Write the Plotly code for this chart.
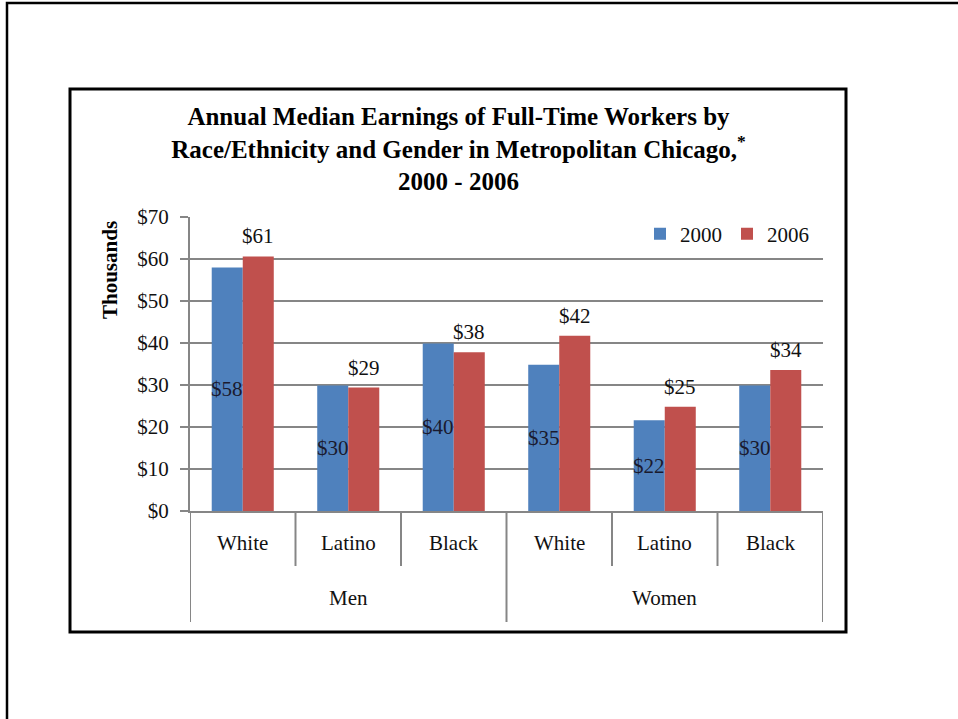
import plotly.graph_objects as go

# ---- data ----
groups = ["Men", "Men", "Men", "Women", "Women", "Women"]
races = ["White", "Latino", "Black", "White", "Latino", "Black"]
series_names = ["2000", "2006"]
earn_2000 = [58.0, 29.9, 39.9, 34.8, 21.6, 29.9]
earn_2006 = [60.6, 29.4, 37.8, 41.7, 24.8, 33.6]
labels_2000 = ["$58", "$30", "$40", "$35", "$22", "$30"]
labels_2006 = ["$61", "$29", "$38", "$42", "$25", "$34"]
group_names = ["Men", "Women"]
y_ticks = [0, 10, 20, 30, 40, 50, 60, 70]
y_ticktext = ["$0", "$10", "$20", "$30", "$40", "$50", "$60", "$70"]

BLUE = "#4F81BD"
RED = "#C0504D"
GRID = "#868686"
FONT = "Liberation Serif"
FS = 21

W, H = 958, 719
L, R, T, B = 190, 135, 217, 208
PW = W - L - R
PH = H - T - B


def px_x(px):
    return (px - L) / PW


def px_y(py):
    return (H - B - py) / PH


pos = list(range(len(races)))
bargap = 0.412
bar_w = (1 - bargap) / 2  # each bar width in category units

fig = go.Figure()
fig.add_trace(go.Bar(x=pos, y=earn_2000, name=series_names[0], marker_color=BLUE,
                     marker_line_width=0, hoverinfo="skip"))
fig.add_trace(go.Bar(x=pos, y=earn_2006, name=series_names[1], marker_color=RED,
                     marker_line_width=0, hoverinfo="skip"))

annotations = []
# data labels
for i, (v, t) in enumerate(zip(earn_2000, labels_2000)):
    annotations.append(dict(x=i - bar_w / 2, y=v / 2, xref="x", yref="y", text=t,
                            showarrow=False, font=dict(family=FONT, size=FS, color="#1a1a2e"),
                            xanchor="center", yanchor="middle"))
for i, (v, t) in enumerate(zip(earn_2006, labels_2006)):
    annotations.append(dict(x=i + bar_w / 2, y=v, xref="x", yref="y", text=t,
                            showarrow=False, font=dict(family=FONT, size=FS, color="#111111"),
                            xanchor="center", yanchor="bottom", yshift=6))
# category labels
for i, r in enumerate(races):
    annotations.append(dict(x=i, y=0, xref="x", yref="paper", text=r, showarrow=False,
                            font=dict(family=FONT, size=FS, color="#111111"),
                            xanchor="center", yanchor="middle", yshift=-32))
# group labels
for gname in group_names:
    idx = [i for i, g in enumerate(groups) if g == gname]
    annotations.append(dict(x=sum(idx) / len(idx), y=0, xref="x", yref="paper", text=gname,
                            showarrow=False, font=dict(family=FONT, size=FS, color="#111111"),
                            xanchor="center", yanchor="middle", yshift=-87))
# y-axis title
annotations.append(dict(x=px_x(110), y=px_y(270), xref="paper", yref="paper", text="<b>Thousands</b>",
                        showarrow=False, textangle=-90, font=dict(family=FONT, size=FS, color="#000000"),
                        xanchor="center", yanchor="middle"))

shapes = []
# separators under the category axis
for b in [i - 0.5 for i in range(len(races) + 1)]:
    is_group_edge = (b == -0.5) or (b == len(races) - 0.5) or \
        (groups[int(b - 0.5)] != groups[int(b + 0.5)])
    bottom = 622 if is_group_edge else 566
    shapes.append(dict(type="line", xref="x", yref="paper", x0=b, x1=b,
                       y0=0, y1=px_y(bottom), line=dict(color=GRID, width=2), layer="above"))
# outer page frame
shapes.append(dict(type="rect", xref="paper", yref="paper", x0=px_x(7), x1=px_x(990),
                   y0=px_y(3), y1=px_y(760), line=dict(color="#000000", width=2.5)))
# chart box
shapes.append(dict(type="rect", xref="paper", yref="paper", x0=px_x(70), x1=px_x(846),
                   y0=px_y(89), y1=px_y(632), line=dict(color="#000000", width=3)))

fig.update_layout(
    width=W, height=H,
    margin=dict(l=L, r=R, t=T, b=B, pad=0),
    paper_bgcolor="white", plot_bgcolor="white",
    barmode="group", bargap=bargap, bargroupgap=0,
    font=dict(family=FONT, size=FS, color="#111111"),
    title=dict(text="<b>Annual Median Earnings of Full-Time Workers by<br>"
                    "Race/Ethnicity and Gender in Metropolitan Chicago,<sup>*</sup><br>"
                    "2000 - 2006</b>",
               x=458.5 / W, xref="container", xanchor="center",
               y=1 - 125 / H, yref="container", yanchor="middle",
               font=dict(family=FONT, size=25, color="#000000")),
    xaxis=dict(range=[-0.5, len(races) - 0.5], showticklabels=False, ticks="",
               showgrid=False, zeroline=False, showline=True, linecolor=GRID, linewidth=2),
    yaxis=dict(range=[0, 70], tickvals=y_ticks, ticktext=y_ticktext, ticks="outside",
               ticklen=8, tickwidth=2, tickcolor=GRID, showgrid=True, gridcolor=GRID,
               gridwidth=2, showline=True, linecolor=GRID, linewidth=2, zeroline=False,
               tickfont=dict(family=FONT, size=FS, color="#111111"), ticklabelstandoff=7),
    legend=dict(orientation="h", x=px_x(640), xanchor="left", y=px_y(234), yanchor="middle",
                font=dict(family=FONT, size=FS, color="#111111"), bgcolor="rgba(0,0,0,0)",
                traceorder="normal"),
    hovermode=False,
    annotations=annotations, shapes=shapes,
)

fig.write_html("out.html", config={"displayModeBar": False},
               post_script="document.body.style.margin='0';")
